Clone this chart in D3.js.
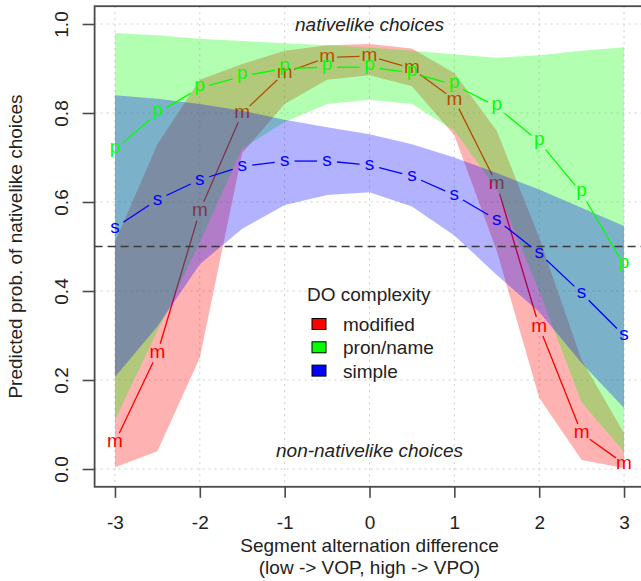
<!doctype html>
<html>
<head>
  <meta charset="utf-8">
  <style>
    body { margin: 0; background: #fff; }
    svg { display: block; font-family: "Liberation Sans", Arial, sans-serif; }
  </style>
  <script src="https://cdn.jsdelivr.net/npm/d3@7"></script>
</head>
<body>
  <script>
  // x positions (segment alternation difference)
  var xVals = [-3, -2.5, -2, -1.5, -1, -0.5, 0, 0.5, 1, 1.5, 2, 2.5, 3];

  // modified
  var modFit = [0.06, 0.26, 0.58, 0.80, 0.89, 0.925, 0.928, 0.90, 0.83, 0.64, 0.32, 0.08, 0.012];
  var modLo  = [0.004, 0.04, 0.25, 0.71, 0.82, 0.875, 0.885, 0.86, 0.75, 0.49, 0.16, 0.02, 0.002];
  var modHi  = [0.51, 0.73, 0.875, 0.91, 0.94, 0.952, 0.955, 0.945, 0.89, 0.76, 0.52, 0.245, 0.081];

  // pron/name
  var pronFit = [0.717, 0.80, 0.856, 0.883, 0.90, 0.903, 0.903, 0.89, 0.863, 0.814, 0.735, 0.62, 0.458];
  var pronLo  = [0.11, 0.31, 0.51, 0.72, 0.78, 0.82, 0.83, 0.82, 0.76, 0.63, 0.40, 0.15, 0.038];
  var pronHi  = [0.98, 0.975, 0.967, 0.962, 0.957, 0.952, 0.947, 0.94, 0.932, 0.924, 0.93, 0.94, 0.948];

  // simple
  var simpFit = [0.542, 0.605, 0.65, 0.68, 0.692, 0.692, 0.683, 0.658, 0.616, 0.56, 0.485, 0.395, 0.30];
  var simpLo  = [0.207, 0.32, 0.46, 0.54, 0.593, 0.616, 0.622, 0.59, 0.525, 0.436, 0.353, 0.238, 0.137];
  var simpHi  = [0.84, 0.832, 0.82, 0.805, 0.785, 0.768, 0.752, 0.73, 0.70, 0.665, 0.628, 0.587, 0.546];

  var xTicks = [-3, -2, -1, 0, 1, 2, 3];
  var xTickLabels = ["-3", "-2", "-1", "0", "1", "2", "3"];
  var yTicks = [0, 0.2, 0.4, 0.6, 0.8, 1.0];
  var yTickLabels = ["0.0", "0.2", "0.4", "0.6", "0.8", "1.0"];

  var legendLabels = ["modified", "pron/name", "simple"];
  var legendColors = ["#ff0000", "#00ff00", "#0000ff"];

  var W = 641, H = 581;
  var axisCol = "#4a4a4a";

  var x = d3.scaleLinear().domain([-3.24, 3.24]).range([94.6, 644.4]);
  var y = d3.scaleLinear().domain([-0.04, 1.04]).range([486.8, 6.2]);

  var svg = d3.select("body").append("svg")
      .attr("width", W)
      .attr("height", H);

  // grid
  var grid = svg.append("g")
      .attr("stroke", "#cfcfcf")
      .attr("stroke-width", 1)
      .attr("stroke-dasharray", "2,4");
  grid.selectAll(".gx").data(xTicks).enter().append("line")
      .attr("x1", function(d) { return x(d); })
      .attr("x2", function(d) { return x(d); })
      .attr("y1", y(1.04)).attr("y2", y(-0.04));
  grid.selectAll(".gy").data(yTicks).enter().append("line")
      .attr("y1", function(d) { return y(d); })
      .attr("y2", function(d) { return y(d); })
      .attr("x1", x(-3.24)).attr("x2", x(3.24));

  var area = d3.area()
      .x(function(d) { return x(d.x); })
      .y0(function(d) { return y(d.lo); })
      .y1(function(d) { return y(d.hi); });

  function band(lo, hi, col) {
    var pts = xVals.map(function(v, i) { return {x: v, lo: lo[i], hi: hi[i]}; });
    svg.append("path")
        .attr("d", area(pts))
        .attr("fill", col)
        .attr("fill-opacity", 0.3);
  }

  // type="b": line segments with gaps around the character points
  function series(fit, ch, col, dy) {
    var gap = 10;
    var g = svg.append("g");
    for (var i = 0; i < xVals.length - 1; i++) {
      var x1 = x(xVals[i]), y1 = y(fit[i]), x2 = x(xVals[i + 1]), y2 = y(fit[i + 1]);
      var dx = x2 - x1, dyy = y2 - y1, len = Math.sqrt(dx * dx + dyy * dyy);
      if (len <= 2 * gap) continue;
      var ux = dx / len, uy = dyy / len;
      g.append("line")
          .attr("x1", x1 + ux * gap).attr("y1", y1 + uy * gap)
          .attr("x2", x2 - ux * gap).attr("y2", y2 - uy * gap)
          .attr("stroke", col)
          .attr("stroke-width", 1.3);
    }
    g.selectAll("text").data(fit).enter().append("text")
        .attr("x", function(d, i) { return x(xVals[i]); })
        .attr("y", function(d) { return y(d); })
        .attr("dy", dy)
        .attr("text-anchor", "middle")
        .attr("font-size", 19)
        .attr("fill", col)
        .text(ch);
  }

  band(modLo, modHi, "#ff0000");
  series(modFit, "m", "#ff0000", "0.26em");
  band(pronLo, pronHi, "#00ff00");
  band(simpLo, simpHi, "#0000ff");

  // reference line at 0.5
  svg.append("line")
      .attr("x1", x(-3.24)).attr("x2", x(3.24))
      .attr("y1", y(0.5)).attr("y2", y(0.5))
      .attr("stroke", "#3a3a3a")
      .attr("stroke-width", 1.5)
      .attr("stroke-dasharray", "8,5");

  series(pronFit, "p", "#00ff00", "0.155em");
  series(simpFit, "s", "#0000ff", "0.26em");

  // annotations
  svg.append("text")
      .attr("x", x(0)).attr("y", 31)
      .attr("text-anchor", "middle")
      .attr("font-size", 19)
      .attr("font-style", "italic")
      .attr("fill", "#222")
      .text("nativelike choices");
  svg.append("text")
      .attr("x", x(0)).attr("y", 457)
      .attr("text-anchor", "middle")
      .attr("font-size", 19)
      .attr("font-style", "italic")
      .attr("fill", "#222")
      .text("non-nativelike choices");

  // legend
  var leg = svg.append("g");
  leg.append("text")
      .attr("x", 307).attr("y", 301)
      .attr("font-size", 19)
      .attr("fill", "#222")
      .text("DO complexity");
  legendLabels.forEach(function(lab, i) {
    var cy = 324 + i * 23.3;
    leg.append("rect")
        .attr("x", 312).attr("y", cy - 5.5)
        .attr("width", 14).attr("height", 11)
        .attr("fill", legendColors[i])
        .attr("stroke", "#000")
        .attr("stroke-width", 1);
    leg.append("text")
        .attr("x", 343).attr("y", cy + 7)
        .attr("font-size", 19)
        .attr("fill", "#222")
        .text(lab);
  });

  // box
  svg.append("rect")
      .attr("x", x(-3.24)).attr("y", y(1.04))
      .attr("width", x(3.24) - x(-3.24))
      .attr("height", y(-0.04) - y(1.04))
      .attr("fill", "none")
      .attr("stroke", axisCol)
      .attr("stroke-width", 1.8);

  // axes
  var xAxis = svg.append("g")
      .attr("transform", "translate(0," + y(-0.04) + ")")
      .call(d3.axisBottom(x).tickValues(xTicks).tickSize(11)
        .tickFormat(function(d, i) { return xTickLabels[i]; }));
  xAxis.select(".domain").remove();
  xAxis.selectAll(".tick line").attr("stroke", axisCol).attr("stroke-width", 1.6);
  xAxis.selectAll(".tick text")
      .attr("y", 42).attr("dy", null)
      .attr("font-size", 19)
      .attr("font-family", "Liberation Sans, Arial, sans-serif")
      .attr("fill", "#222");

  var yAxis = svg.append("g")
      .attr("transform", "translate(" + x(-3.24) + ",0)")
      .call(d3.axisLeft(y).tickValues(yTicks).tickSize(12)
        .tickFormat(function(d, i) { return yTickLabels[i]; }));
  yAxis.select(".domain").remove();
  yAxis.selectAll(".tick line").attr("stroke", axisCol).attr("stroke-width", 1.6);
  yAxis.selectAll(".tick text")
      .attr("x", null).attr("dy", "0.36em")
      .attr("text-anchor", "middle")
      .attr("transform", "translate(-33,0) rotate(-90)")
      .attr("font-size", 19)
      .attr("font-family", "Liberation Sans, Arial, sans-serif")
      .attr("fill", "#222");

  // axis titles
  svg.append("text")
      .attr("x", x(0)).attr("y", 552)
      .attr("text-anchor", "middle")
      .attr("font-size", 19)
      .attr("fill", "#222")
      .text("Segment alternation difference");
  svg.append("text")
      .attr("x", x(0)).attr("y", 574)
      .attr("text-anchor", "middle")
      .attr("font-size", 19)
      .attr("fill", "#222")
      .text("(low -> VOP, high -> VPO)");
  svg.append("text")
      .attr("transform", "translate(22," + y(0.5) + ") rotate(-90)")
      .attr("text-anchor", "middle")
      .attr("font-size", 19)
      .attr("fill", "#222")
      .text("Predicted prob. of nativelike choices");
  </script>
</body>
</html>
